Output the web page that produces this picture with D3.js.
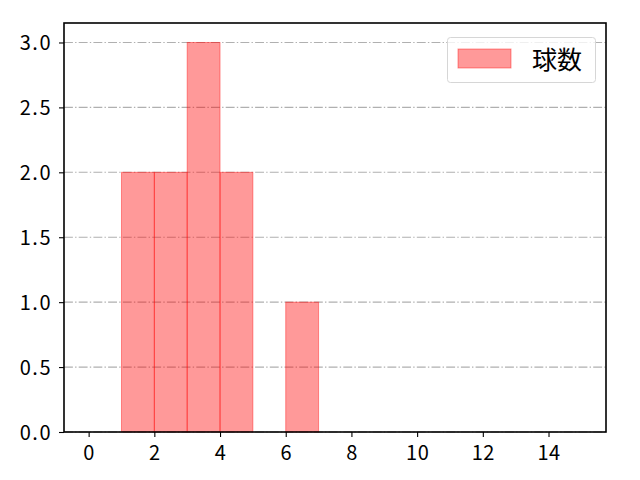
<!DOCTYPE html>
<html><head><meta charset="utf-8">
<script src="https://cdn.jsdelivr.net/npm/d3@7"></script>
<style>body{margin:0;background:#fff}svg{display:block}text{font-family:"Noto Sans CJK JP","DejaVu Sans",sans-serif}</style>
</head><body><svg id="c" width="640" height="480"></svg>
<script>
const binStarts = [1, 2, 3, 4, 6];
const binEnds   = [2, 3, 4, 5, 7];
const counts    = [2, 2, 3, 2, 1];
const xTicks = [0, 2, 4, 6, 8, 10, 12, 14];
const yTicks = [0, 0.5, 1.0, 1.5, 2.0, 2.5, 3.0];
const seriesName = "球数";

const svg = d3.select("#c");
const L = 64, R = 606, T = 23, B = 432;
const x = d3.scaleLinear().domain([-0.75, 15.75]).range([L, R]);
const y = d3.scaleLinear().domain([0, 3.15]).range([B, T]);

// grid
svg.append("g").selectAll("line").data(yTicks).join("line")
  .attr("x1", L).attr("x2", R).attr("y1", d => y(d)).attr("y2", d => y(d))
  .attr("stroke", "#b0b0b0").attr("stroke-width", 1.1).attr("stroke-dasharray", "8.9,2.2,1.4,2.2");

// bars
svg.append("g").selectAll("rect").data(counts).join("rect")
  .attr("x", (d, i) => x(binStarts[i]))
  .attr("width", (d, i) => x(binEnds[i]) - x(binStarts[i]))
  .attr("y", d => y(d)).attr("height", d => B - y(d))
  .attr("fill", "rgb(255,0,0)").attr("fill-opacity", 0.4)
  .attr("stroke", "rgb(255,0,0)").attr("stroke-opacity", 0.4).attr("stroke-width", 1);

// axes
const xa = svg.append("g").attr("transform", `translate(0,${B})`)
  .call(d3.axisBottom(x).tickValues(xTicks).tickSize(5).tickPadding(8).tickFormat(d3.format("d")));
const ya = svg.append("g").attr("transform", `translate(${L},0)`)
  .call(d3.axisLeft(y).tickValues(yTicks).tickSize(5).tickPadding(7).tickFormat(d3.format(".1f")));
[xa, ya].forEach(g => {
  g.attr("font-size", 20).attr("font-family", '"Noto Sans CJK JP","DejaVu Sans",sans-serif');
  g.select(".domain").remove();
  g.selectAll("line").attr("stroke", "#000").attr("stroke-width", 1.1);
  g.selectAll("text").style("font-size", "20px").attr("fill", "#000");
});
xa.selectAll("text").attr("dy", "0.75em").attr("letter-spacing", 0.5);
ya.selectAll("text").attr("dy", "0.35em").attr("letter-spacing", 1.5);

// frame
svg.append("rect").attr("x", L).attr("y", T).attr("width", R - L).attr("height", B - T)
  .attr("fill", "none").attr("stroke", "#000").attr("stroke-width", 1.6);

// legend
const lg = svg.append("g");
lg.append("rect").attr("x", 447.5).attr("y", 37.5).attr("width", 148).attr("height", 45).attr("rx", 3)
  .attr("fill", "#fff").attr("fill-opacity", 0.8).attr("stroke", "#d6d6d6").attr("stroke-width", 1);
lg.append("rect").attr("x", 458).attr("y", 49).attr("width", 53).attr("height", 19)
  .attr("fill", "rgb(255,0,0)").attr("fill-opacity", 0.4)
  .attr("stroke", "rgb(255,0,0)").attr("stroke-opacity", 0.4);
lg.append("text").attr("x", 532).attr("y", 60).attr("dy", "0.35em").style("font-size", "25px")
  .attr("fill", "#000").text(seriesName);
</script></body></html>
